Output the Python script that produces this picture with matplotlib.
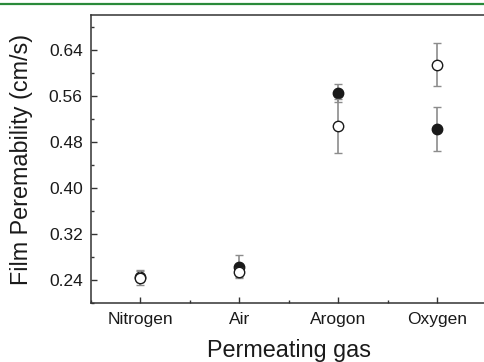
import matplotlib
matplotlib.use("Agg")
import matplotlib.pyplot as plt
from matplotlib.lines import Line2D
from matplotlib.ticker import MultipleLocator

gases = ["Nitrogen", "Air", "Arogon", "Oxygen"]
filled_val = [0.246, 0.263, 0.565, 0.502]
filled_err = [0.010, 0.020, 0.016, 0.038]
open_val = [0.244, 0.253, 0.508, 0.614]
open_err = [0.0125, 0.008, 0.047, 0.037]

plt.rcParams['font.family'] = ['Liberation Sans', 'DejaVu Sans']

fig = plt.figure(figsize=(4.84, 3.62), dpi=100)
ax = fig.add_axes([91/484, 1-303/362, (486.5-91)/484, (303-15)/362])

# green rule across the top
fig.add_artist(Line2D([0, 1], [1-4/362, 1-4/362], color="#2a8a3a", lw=1.6,
                      transform=fig.transFigure))

x = list(range(1, len(gases)+1))
ax.errorbar(x, filled_val, yerr=filled_err, fmt='o', ms=7.5, mfc='#1a1a1a',
            mec='#1a1a1a', ecolor='#8c8c8c', elinewidth=1.2, capsize=2.8,
            capthick=1.0, zorder=3)
ax.errorbar(x, open_val, yerr=open_err, fmt='o', ms=7.5, mfc='white',
            mec='#1a1a1a', mew=1.0, ecolor='#8c8c8c', elinewidth=1.2,
            capsize=2.8, capthick=1.0, zorder=4)

ax.set_xlim(0.5, 4.5)
ax.set_ylim(0.20, 0.70)
ax.set_xticks(x)
ax.set_xticklabels(gases)
ax.xaxis.set_minor_locator(MultipleLocator(0.5))
ax.set_yticks([0.24, 0.32, 0.40, 0.48, 0.56, 0.64])
ax.yaxis.set_minor_locator(MultipleLocator(0.04))
ax.yaxis.set_major_formatter(matplotlib.ticker.FormatStrFormatter('%.2f'))

ax.tick_params(which='both', direction='in', colors='#333333', labelcolor='#1a1a1a',
               labelsize=12.5, top=False, right=False)
ax.tick_params(which='major', length=4.5, width=1)
ax.tick_params(which='minor', length=2.5, width=1)
ax.tick_params(axis='x', pad=6.5)
ax.tick_params(axis='y', pad=6)
for s in ax.spines.values():
    s.set_color('#333333')
    s.set_linewidth(1.1)

ax.set_ylabel("Film Peremability (cm/s)", fontsize=16.8, color='#1a1a1a')
ax.yaxis.set_label_coords(-0.147, 0.5)
ax.set_xlabel("Permeating gas", fontsize=16.8, color='#1a1a1a')
ax.xaxis.set_label_coords(0.5, -0.125)

fig.savefig("out.png", dpi=100)
